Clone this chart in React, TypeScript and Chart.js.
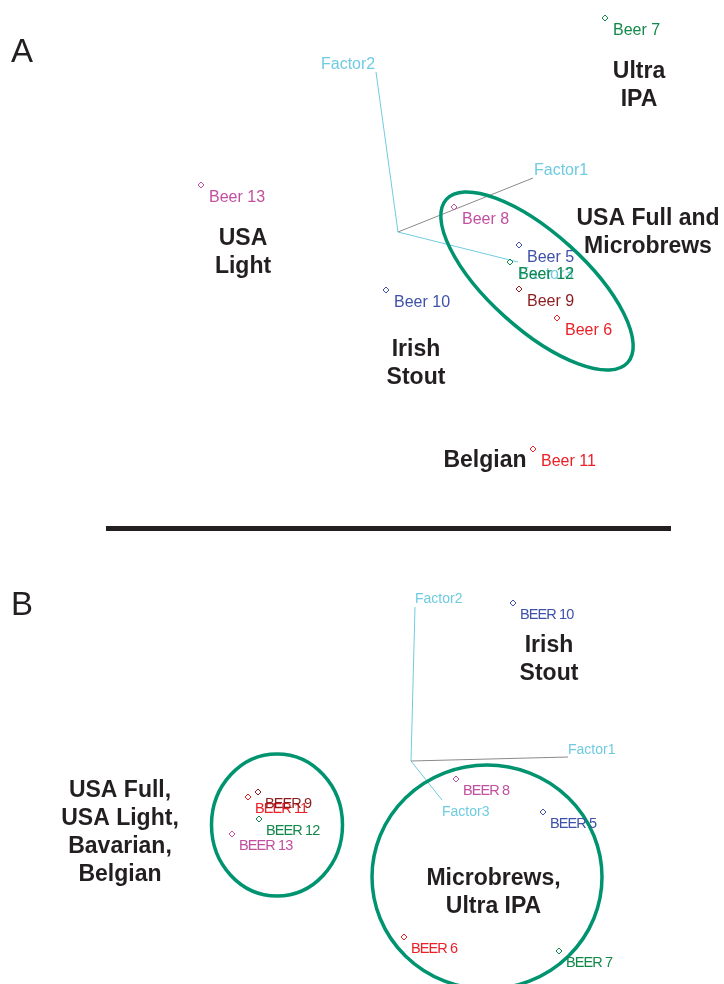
import React, { useEffect, useRef } from "react";
import { Chart, registerables } from "chart.js";

Chart.register(...registerables);

// ---------------- Panel A data (factor-space units) ----------------
const beersA = ["Beer 7", "Beer 13", "Beer 8", "Beer 5", "Beer 12", "Beer 9", "Beer 10", "Beer 6", "Beer 11"];
const xA = [2.43, -1.61, 0.92, 1.57, 1.48, 1.57, 0.24, 1.95, 1.71];
const yA = [2.32, 0.65, 0.43, 0.05, -0.12, -0.39, -0.40, -0.68, -1.99];

const factorNamesA = ["Factor1", "Factor2", "Factor3"];
const factorOriginA = [0.36, 0.18];
const factorEndXA = [1.71, 0.14, 1.56];
const factorEndYA = [0.72, 1.78, -0.12];
const factorLabelXA = [1.72, -0.41, 1.57];
const factorLabelYA = [0.81, 1.87, -0.23];

const ringXA = [1.75];
const ringYA = [-0.31];
const ringRXA = [1.22];
const ringRYA = [0.48];
const ringRotA = [42];

const groupsA = ["Ultra\nIPA", "USA\nLight", "USA Full and\nMicrobrews", "Irish\nStout", "Belgian"];
const groupXA = [2.77, -1.19, 2.86, 0.54, 1.23];
const groupYA = [1.66, -0.01, 0.19, -1.12, -2.09];

// ---------------- Panel B data ----------------
const beersB = ["BEER 10", "BEER 8", "BEER 5", "BEER 6", "BEER 7", "BEER 11", "BEER 9", "BEER 12", "BEER 13"];
const xB = [1.51, 0.94, 1.81, 0.42, 1.97, -1.14, -1.04, -1.03, -1.30];
const yB = [1.59, -0.17, -0.50, -1.75, -1.89, -0.35, -0.30, -0.57, -0.72];

const factorNamesB = ["Factor1", "Factor2", "Factor3"];
const factorOriginB = [0.49, 0.01];
const factorEndXB = [2.06, 0.53, 0.80];
const factorEndYB = [0.05, 1.55, -0.38];
const factorLabelXB = [2.06, 0.53, 0.80];
const factorLabelYB = [0.13, 1.64, -0.49];

const ringXB = [-0.85, 1.25];
const ringYB = [-0.63, -1.15];
const ringRXB = [0.655, 1.15];
const ringRYB = [0.71, 1.12];
const ringRotB = [0, 0];

const groupsB = ["Irish\nStout", "USA Full,\nUSA Light,\nBavarian,\nBelgian", "Microbrews,\nUltra IPA"];
const groupXB = [1.87, -2.42, 1.315];
const groupYB = [1.035, -0.695, -1.29];

// ---------------- styles ----------------
const FONT = '"Liberation Sans", Arial, Helvetica, sans-serif';
const INK = "#231f20";
const CYAN = "#6fcbe0";
const GRAY = "#8a8a8a";
const RING = "#00936f";
const PAD = 4; // Chart.js point overflow padding, compensated by canvas offset
const beerColor: Record<string, string> = {
  "5": "#3f51a8",
  "6": "#ec2027",
  "7": "#12894a",
  "8": "#c24f9f",
  "9": "#8a1c1f",
  "10": "#3f51a8",
  "11": "#ec2027",
  "12": "#12894a",
  "13": "#c24f9f",
};
const colorOf = (name: string) => beerColor[name.split(" ")[1]];

type Panel = {
  names: string[]; xs: number[]; ys: number[];
  fNames: string[]; fOrigin: number[]; fEndX: number[]; fEndY: number[]; fLabX: number[]; fLabY: number[];
  rX: number[]; rY: number[]; rRX: number[]; rRY: number[]; rRot: number[];
  gTexts: string[]; gX: number[]; gY: number[];
  letter: string; letterPos: [number, number];
  xMin: number; xMax: number; yMin: number; yMax: number;
  labelFont: string; labelSpacing: string; factorFont: string; labelDx: number; labelDy: number; textDy: number;
};

function buildConfig(p: Panel): any {
  const datasets: any[] = [
    {
      data: p.xs.map((x, i) => ({ x, y: p.ys[i] })),
      pointStyle: "rectRot",
      pointRadius: 3,
      pointHoverRadius: 3,
      pointBorderWidth: 1,
      pointHoverBorderWidth: 1,
      pointBackgroundColor: "rgba(255,255,255,0)",
      pointBorderColor: p.names.map(colorOf),
      showLine: false,
      clip: false,
    },
  ];
  p.fNames.forEach((_, i) => {
    datasets.push({
      data: [
        { x: p.fOrigin[0], y: p.fOrigin[1] },
        { x: p.fEndX[i], y: p.fEndY[i] },
      ],
      showLine: true,
      borderColor: i === 0 ? GRAY : CYAN,
      borderWidth: 1,
      pointRadius: 0,
      pointHoverRadius: 0,
      clip: false,
    });
  });

  const decor = {
    id: "decor" + p.letter,
    afterDatasetsDraw(chart: any) {
      const ctx = chart.ctx as CanvasRenderingContext2D;
      const sx = chart.scales.x;
      const sy = chart.scales.y;
      const X = (v: number) => sx.getPixelForValue(v);
      const Y = (v: number) => sy.getPixelForValue(v);
      ctx.save();
      // cluster rings
      ctx.strokeStyle = RING;
      ctx.lineWidth = 3.5;
      p.rX.forEach((cx, i) => {
        const px = X(cx);
        const py = Y(p.rY[i]);
        const rx = Math.abs(X(cx + p.rRX[i]) - px);
        const ry = Math.abs(Y(p.rY[i] + p.rRY[i]) - py);
        ctx.beginPath();
        ctx.ellipse(px, py, rx, ry, (p.rRot[i] * Math.PI) / 180, 0, Math.PI * 2);
        ctx.stroke();
      });
      // factor labels
      ctx.font = p.factorFont;
      ctx.fillStyle = CYAN;
      ctx.textAlign = "left";
      ctx.textBaseline = "middle";
      p.fNames.forEach((n, i) => ctx.fillText(n, X(p.fLabX[i]), Y(p.fLabY[i]) + p.textDy));
      // point labels
      ctx.font = p.labelFont;
      (ctx as any).letterSpacing = p.labelSpacing;
      p.names.forEach((n, i) => {
        ctx.fillStyle = colorOf(n);
        ctx.fillText(n, X(p.xs[i]) + p.labelDx, Y(p.ys[i]) + p.labelDy);
      });
      (ctx as any).letterSpacing = "0px";
      // group annotations
      ctx.font = `bold 23px ${FONT}`;
      ctx.fillStyle = INK;
      ctx.textAlign = "center";
      const lh = 28;
      p.gTexts.forEach((t, i) => {
        const lines = t.split("\n");
        const cy = Y(p.gY[i]) + p.textDy;
        lines.forEach((ln, j) => {
          ctx.fillText(ln, X(p.gX[i]), cy + (j - (lines.length - 1) / 2) * lh);
        });
      });
      // panel letter
      ctx.font = `33px ${FONT}`;
      ctx.textAlign = "left";
      ctx.textBaseline = "alphabetic";
      ctx.fillText(p.letter, p.letterPos[0] + PAD, p.letterPos[1] + PAD);
      ctx.restore();
    },
  };

  return {
    type: "scatter",
    data: { datasets },
    options: {
      animation: false,
      responsive: false,
      devicePixelRatio: 1,
      events: [],
      layout: { padding: 0 },
      plugins: { legend: { display: false }, tooltip: { enabled: false } },
      scales: {
        x: { type: "linear", min: p.xMin, max: p.xMax, display: false },
        y: { type: "linear", min: p.yMin, max: p.yMax, display: false },
      },
    },
    plugins: [decor],
  };
}

const panelA: Panel = {
  names: beersA, xs: xA, ys: yA,
  fNames: factorNamesA, fOrigin: factorOriginA, fEndX: factorEndXA, fEndY: factorEndYA, fLabX: factorLabelXA, fLabY: factorLabelYA,
  rX: ringXA, rY: ringYA, rRX: ringRXA, rRY: ringRYA, rRot: ringRotA,
  gTexts: groupsA, gX: groupXA, gY: groupYA,
  letter: "A", letterPos: [11, 62],
  xMin: -3.62, xMax: 3.62, yMin: -2.5, yMax: 2.5,
  labelFont: `16px ${FONT}`, labelSpacing: "0px", factorFont: `16px ${FONT}`, labelDx: 8, labelDy: 13, textDy: 2,
};

const panelB: Panel = {
  names: beersB, xs: xB, ys: yB,
  fNames: factorNamesB, fOrigin: factorOriginB, fEndX: factorEndXB, fEndY: factorEndYB, fLabX: factorLabelXB, fLabY: factorLabelYB,
  rX: ringXB, rY: ringYB, rRX: ringRXB, rRY: ringRYB, rRot: ringRotB,
  gTexts: groupsB, gX: groupXB, gY: groupYB,
  letter: "B", letterPos: [11, 75],
  xMin: -3.62, xMax: 3.62, yMin: -2.22, yMax: 2.22,
  labelFont: `14.5px ${FONT}`, labelSpacing: "-0.9px", factorFont: `14px ${FONT}`, labelDx: 7, labelDy: 11.5, textDy: 1.5,
};

function PanelChart({ panel, top, height }: { panel: Panel; top: number; height: number }) {
  const ref = useRef<HTMLCanvasElement | null>(null);
  useEffect(() => {
    if (!ref.current) return;
    const chart = new Chart(ref.current, buildConfig(panel));
    return () => chart.destroy();
  }, [panel]);
  const w = 724 + 2 * PAD;
  const h = height + 2 * PAD;
  return (
    <canvas
      ref={ref}
      width={w}
      height={h}
      style={{ position: "absolute", left: -PAD, top: top - PAD, width: w, height: h, display: "block" }}
    />
  );
}

export default function App() {
  return (
    <div style={{ position: "absolute", left: 0, top: 0, width: 724, height: 984, background: "#fff", overflow: "hidden" }}>
      <PanelChart panel={panelA} top={0} height={500} />
      <div style={{ position: "absolute", left: 106, top: 526, width: 565, height: 5, background: INK }} />
      <PanelChart panel={panelB} top={540} height={444} />
    </div>
  );
}
